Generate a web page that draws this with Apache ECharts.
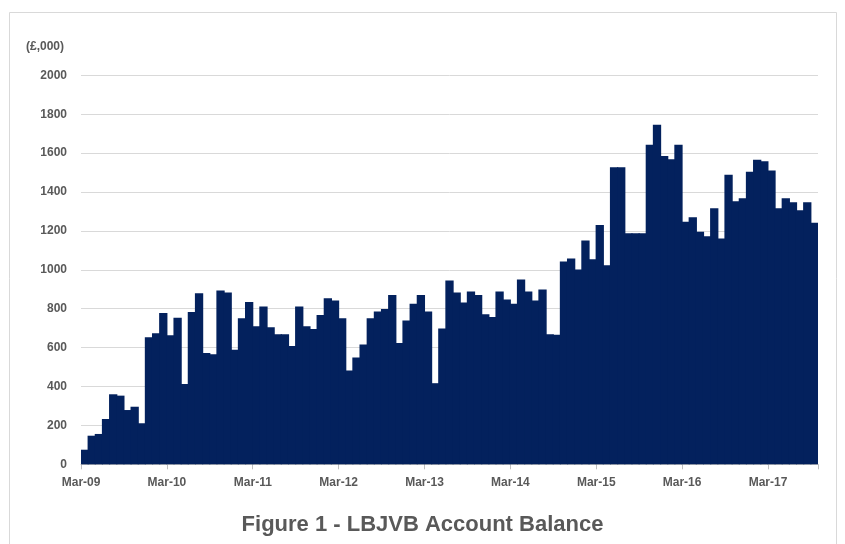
<!DOCTYPE html>
<html>
<head>
<meta charset="utf-8">
<script src="https://cdn.jsdelivr.net/npm/echarts@6/dist/echarts.min.js"></script>
<style>
html,body{margin:0;padding:0;background:#fff;}
#chart{width:845px;height:544px;}
</style>
</head>
<body>
<div id="chart"></div>
<script>
// Monthly periods, Mar-09 .. Sep-17
var monthNames = ['Jan','Feb','Mar','Apr','May','Jun','Jul','Aug','Sep','Oct','Nov','Dec'];
var startYear = 2009, startMonth = 2, monthCount = 103;

// Account balance (£,000), one value per month
var balance = [
  75, 147, 156, 233, 360, 353, 279, 296, 211, 653, 674, 778,
  663, 754, 413, 783, 880, 572, 566, 894, 883, 589, 751, 835,
  710, 811, 704, 669, 669, 608, 811, 710, 695, 767, 854, 842,
  751, 482, 549, 616, 751, 786, 798, 871, 624, 739, 825, 871,
  786, 417, 698, 945, 883, 832, 889, 870, 772, 757, 889, 847,
  825, 950, 889, 842, 899, 669, 666, 1043, 1058, 1002, 1150, 1054,
  1230, 1024, 1527, 1527, 1188, 1188, 1188, 1643, 1746, 1585, 1569, 1643,
  1247, 1270, 1196, 1173, 1316, 1161, 1489, 1352, 1368, 1504, 1566, 1558,
  1511, 1316, 1368, 1347, 1306, 1347, 1242
];

var yTicks = [0, 200, 400, 600, 800, 1000, 1200, 1400, 1600, 1800, 2000];
var unitLabel = '(£,000)';
var chartTitle = 'Figure 1 - LBJVB Account Balance';

var categories = [];
for (var i = 0; i < monthCount; i++) {
  var m = (startMonth + i) % 12;
  var y = startYear + Math.floor((startMonth + i) / 12);
  categories.push(monthNames[m] + '-' + String(y).slice(2));
}

var textColor = '#595959';
var barColor = '#03215d';
var chart = echarts.init(document.getElementById('chart'), null, {renderer: 'canvas'});
chart.setOption({
  animation: false,
  backgroundColor: '#ffffff',
  textStyle: {fontFamily: '"Liberation Sans", Arial, sans-serif'},
  title: [{
    text: unitLabel,
    left: 21, top: 36,
    textStyle: {fontSize: 12, fontWeight: 'bold', color: textColor, fontFamily: '"Liberation Sans", Arial, sans-serif'}
  }, {
    text: chartTitle,
    left: 'center', top: 509,
    textStyle: {fontSize: 22, fontWeight: 'bold', color: textColor, fontFamily: '"Liberation Sans", Arial, sans-serif'}
  }],
  graphic: [{
    type: 'rect', silent: true,
    shape: {x: 9.5, y: 12.5, width: 827, height: 560},
    style: {fill: 'none', stroke: '#d9d9d9', lineWidth: 1}
  }],
  grid: {left: 81, right: 27, top: 75.3, bottom: 79.7, containLabel: false},
  xAxis: {
    type: 'category',
    data: categories,
    boundaryGap: true,
    axisLine: {show: true, lineStyle: {color: '#bfbfbf', width: 1}},
    axisTick: {show: true, interval: 11, length: 5, lineStyle: {color: '#bfbfbf'}},
    axisLabel: {
      interval: 11, margin: 12, fontSize: 12, fontWeight: 'bold', color: textColor,
      padding: [0, 7, 0, 0]
    },
    splitLine: {show: false}
  },
  yAxis: {
    type: 'value',
    min: yTicks[0], max: yTicks[yTicks.length - 1], interval: 200,
    axisLine: {show: false},
    axisTick: {show: false},
    axisLabel: {
      margin: 14, fontSize: 12, fontWeight: 'bold', color: textColor,
      formatter: function (v) { return String(v); }
    },
    splitLine: {show: true, lineStyle: {color: '#d9d9d9', width: 1}}
  },
  series: [{
    type: 'bar',
    data: balance,
    barWidth: '116%',
    barGap: 0,
    itemStyle: {color: barColor, borderWidth: 0},
    emphasis: {disabled: true}
  }]
});
</script>
</body>
</html>
